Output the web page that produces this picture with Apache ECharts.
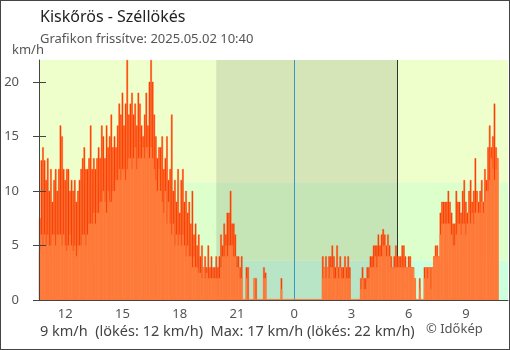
<!DOCTYPE html>
<html><head><meta charset="utf-8">
<script src="https://cdn.jsdelivr.net/npm/echarts@6/dist/echarts.min.js"></script>
<style>
html,body{margin:0;padding:0;background:#fff}
#wrap{position:relative;width:510px;height:350px}
#c{width:510px;height:350px}
#frame{position:absolute;left:0;top:0;width:510px;height:350px;box-sizing:border-box;border:1px solid #444;pointer-events:none}
</style>
</head><body>
<div id="wrap"><div id="c"></div><div id="frame"></div></div>
<script>
// ---- data (5-minute steps from 10:40 on day 1 to 10:40 on day 2) ----
const startMinutes = 10 * 60 + 40;
const stepMinutes = 5;
const slotCount = 295; // includes empty slots after the last reading (axis runs to ~11:10)

const speed = [
  4.5,6,5,6,5,6,5,
  5,6,6,5,6,6,
  6,5,6,5,4.5,5,6,
  5,4.5,5,4,5,5,
  5,6,6,5,6,7,
  7,7,8,7,8,8,9,
  9,10,9,8,10,9,
  9,10,10,11,11,12,
  11,12,12,11,12,13,
  13,12,13,14,12,13,13,
  13,14,13,14,14,13,
  14,13,12,11,10,12,
  10,9,8,10,7,9,
  7,6,7,5,6,5,6,
  5,6,5,4,5,4,
  4,3,4,3,3,2.5,
  2.5,2,3,2,2.5,2,
  2,2,2,2,2,2,
  2,3,4,4,5,4,
  5,5,5,4,4,3,
  3,2,2,0,0,2,
  0,0,0,0,2,0,0,
  0,0,0,2,2,0,0,0,
  0,0,0,0,0,0,1,0,0,0,0,0,
  0,0,0,0,0,0,0,0,0,0,0,0,0,0,0,0,0,0,0,0,
  2,3,2,3,2,3,
  3,2,2,3,2,3,2,
  2,3,2,2,2,
  0,0,0,0,0,0,
  1,2,1,1,2,2,
  3,3,3,4,3,4,4,
  4,5,5,4,5,4,
  3,3,3,3,3,3,
  3,3,3,3,3,3,
  3,3,3,2,0,
  0,1,0,0,2,
  3,2,3,1,3,4,
  4,4,4,
  6,7,7,7,7,7,7,
  6,5,5,6,7,7,
  6,7,7,6,7,8,
  7,8,7,8,9,8,
  8,9,8,9,10,10,
  11,13,12,11,12,13
];

const gust = [
  7.5,12.8,14,12.8,11,13,10,
  12,9,11,12,10,12,
  16,15,12,11,12,12,10,
  11,10,11,9,10,11,
  12,13,14,12,12,13,
  16,12,13,12,13,14,13,
  16,15,13,16,14,15,
  17,14,15,14,16,18,
  17,19,16,18,22,17,
  18,19,17,18,16,19,18,
  16,15,17,19,16,20,
  22,20,17,15,13,14,
  14,15,12,13,15,11,
  12,17,10,11,9,12,8,
  11,12,9,10,8,9,
  7,10,6,7,5,6,
  4,5,3,4,3,5,
  3,4,3,3,4,3,
  4,6,5,7,6,8,
  8,10,7,7,6,4,
  4,3,4,0,0,3,
  3,0,0,0,2,2,0,
  0,0,0,3,2.5,0,0,0,
  0,0,0,0,0,0,2,0,0,0,0,0,
  0,0,0,0,0,0,0,0,0,0,0,0,0,0,0,0,0,0,0,0,
  4,3,4,3,4,4,
  5,4,3,5,3,4,3,
  3,4,3,4,3,
  0,0,0,0,0,0,
  2,3,2,2,3,3,
  4,4,5,5,5,6,5,
  6,6.5,6,5,6,5,
  4,3,4,5,4,4,
  4,5,5,4,3,4,
  4,3,3,2,0,
  0,2,0,0,3,
  3,3,3,3,3,4,
  5,5,4,
  8,9,9,9,9,10,9,
  8,7,7,10,9,9,
  8,10,11,9,8,10,
  11,9,10,13,10,9,
  10,11,9,12,11,14,
  16,14,15,18,14,13
];

const tickHours = [12, 15, 18, 21, 0, 3, 6, 9];
const yTicks = [0, 5, 10, 15, 20];
const bandLimits = [0, 3.6, 10.8, 22];
const sunset = '1 19:55';
const sunrise = '2 05:25';
const midnight = '2 00:00';

const titleText = 'Kiskőrös - Széllökés';
const subText = 'Grafikon frissítve: 2025.05.02 10:40';
const unitText = 'km/h';
const summaryText = '9 km/h  (lökés: 12 km/h)  Max: 17 km/h (lökés: 22 km/h)';
const creditText = '© Időkép';

// ---- categories ----
const categories = [];
for (let i = 0; i < slotCount; i++) {
  const m = startMinutes + i * stepMinutes;
  const day = m >= 1440 ? 2 : 1;
  const mm = m % 1440;
  categories.push(day + ' ' + String(Math.floor(mm / 60)).padStart(2, '0') + ':' + String(mm % 60).padStart(2, '0'));
}
function isTick(index, value) {
  const hh = parseInt(value.slice(2, 4), 10);
  return value.slice(5, 7) === '00' && tickHours.indexOf(hh) >= 0;
}
const sunsetIdx = categories.indexOf(sunset);
const sunriseIdx = categories.indexOf(sunrise);
const midnightIdx = categories.indexOf(midnight);

const FONT = 'Noto Sans';
const chart = echarts.init(document.getElementById('c'), null, { renderer: 'canvas' });
const txt = (size, color) => ({ fontFamily: FONT, fontSize: size, fontWeight: 'normal', color: color });

chart.setOption({
  animation: false,
  textStyle: { fontFamily: FONT },
  title: [
    { text: titleText, left: 40, top: 9, padding: 0, textStyle: txt(16, '#222') },
    { text: subText, left: 40, top: 33, padding: 0, textStyle: txt(13, '#555') },
    { text: unitText, left: 12, top: 44, padding: 0, textStyle: txt(13, '#555') },
    { text: summaryText, left: 40, top: 324, padding: 0, textStyle: txt(14.5, '#444') },
    { text: creditText, left: 426, top: 323, padding: 0, textStyle: txt(13, '#555') }
  ],
  grid: { left: 39, right: 2, top: 60, bottom: 50 },
  xAxis: {
    type: 'category',
    data: categories,
    boundaryGap: true,
    z: 10,
    axisLine: { lineStyle: { color: '#444', width: 1 } },
    axisTick: { alignWithLabel: true, interval: isTick, length: 5, lineStyle: { color: '#444' } },
    axisLabel: {
      interval: isTick,
      formatter: v => String(parseInt(v.slice(2, 4), 10)),
      color: '#555', fontSize: 13, fontFamily: FONT, margin: 8
    },
    splitLine: { show: false }
  },
  yAxis: [
    {
      type: 'value', min: 0, max: 22, z: 10,
      axisLine: { show: true, lineStyle: { color: '#444' } },
      axisTick: { show: true, length: 6, customValues: yTicks, lineStyle: { color: '#444' } },
      axisLabel: { customValues: yTicks, color: '#555', fontSize: 13, fontFamily: FONT, margin: 20 },
      splitLine: { show: false }
    },
    {
      type: 'value', min: 0, max: 22, position: 'left', z: 10,
      axisLine: { show: false },
      axisTick: { show: true, inside: true, length: 7, customValues: yTicks, lineStyle: { color: '#444' } },
      axisLabel: { show: false },
      splitLine: { show: false }
    }
  ],
  series: [
    {
      name: 'háttér', type: 'line', data: [], z: 1, silent: true,
      markArea: {
        silent: true, z: 1, label: { show: false },
        data: [
          [{ yAxis: bandLimits[0], itemStyle: { color: '#ccffdd' } }, { yAxis: bandLimits[1] }],
          [{ yAxis: bandLimits[1], itemStyle: { color: '#ddffcc' } }, { yAxis: bandLimits[2] }],
          [{ yAxis: bandLimits[2], itemStyle: { color: '#eeffcc' } }, { yAxis: bandLimits[3] }],
          [{ xAxis: sunsetIdx, itemStyle: { color: 'rgba(0,0,0,0.1)' } }, { xAxis: sunriseIdx }]
        ]
      },
      markLine: {
        silent: true, z: 1.5, symbol: 'none', label: { show: false },
        data: [
          { xAxis: midnightIdx, lineStyle: { color: '#3399cc', width: 1, type: 'solid' } },
          { xAxis: sunriseIdx, lineStyle: { color: '#333', width: 1, type: 'solid' } }
        ]
      }
    },
    {
      name: 'lökés', type: 'bar', data: gust, z: 2,
      barCategoryGap: '0%', barGap: '-100%',
      itemStyle: { color: '#ff4000', borderColor: '#ff4000', borderWidth: 0.4 }
    },
    {
      name: 'szél', type: 'bar', data: speed, z: 3,
      barCategoryGap: '0%', barGap: '-100%', barMinHeight: 1,
      itemStyle: { color: '#ff8040', borderColor: '#ff8040', borderWidth: 0.4 }
    }
  ]
});
</script>
</body></html>
